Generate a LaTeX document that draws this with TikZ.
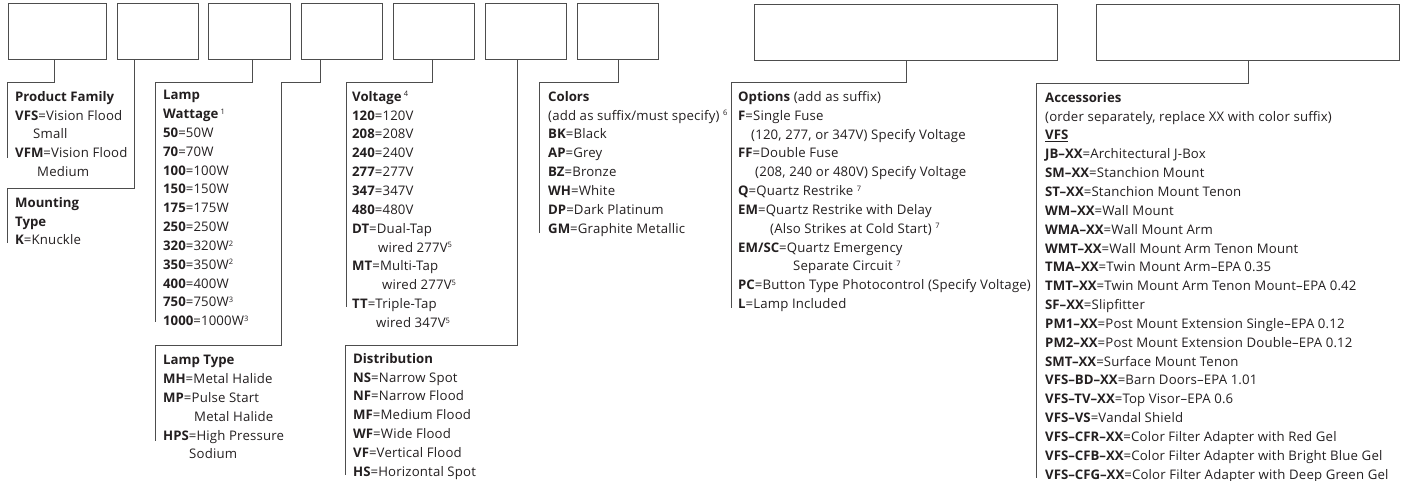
\documentclass[tikz,border=0pt]{standalone}
\usepackage{fontspec}
\setmainfont{Open Sans}[UprightFeatures={LetterSpace=1.3}]
\usetikzlibrary{positioning}
\definecolor{Ink}{HTML}{231F20}
\definecolor{Rule}{HTML}{4D4D4D}
\newcommand{\fn}[1]{\textsuperscript{\fontsize{7.5}{7.5}\selectfont #1}}

\begin{document}
\begin{tikzpicture}[x=1pt,y=-1pt,
    box/.style={draw=Rule,line width=0.9pt,minimum height=56pt,inner sep=0pt,anchor=north west},
    link/.style={draw=Rule,line width=0.9pt},
    sec/.style={anchor=north west,inner sep=0pt,align=left,text=Ink,font=\fontsize{13.2}{18.85}\selectfont}]
  \useasboundingbox (0,0) rectangle (1416,481);
  \node[box,minimum width=98pt] (b1) at (8,3) {};
  \node[box,minimum width=81pt] (b2) at (117,3) {};
  \node[box,minimum width=82pt] (b3) at (208,3) {};
  \node[box,minimum width=81pt] (b4) at (301,3) {};
  \node[box,minimum width=81pt] (b5) at (393,3) {};
  \node[box,minimum width=81pt] (b6) at (485,3) {};
  \node[box,minimum width=81pt] (b7) at (577,3) {};
  \node[box,minimum width=303pt] (b8) at (754,4) {};
  \node[box,minimum width=303pt] (b9) at (1096,4) {};

  \coordinate (pfc) at (7,82);
  \coordinate (mtc) at (7,188);
  \coordinate (lwc) at (155,82);
  \coordinate (k4) at (281,82);
  \coordinate (ltc) at (155,345);
  \coordinate (vc) at (346,82);
  \coordinate (dc) at (345,345);
  \coordinate (cc) at (539,82);
  \coordinate (oc) at (731,82);
  \coordinate (ac) at (1036,83);

  \node[sec,below right=9pt and 8pt of pfc] (pf) {\textbf{Product Family}\\
    \textbf{VFS}=Vision Flood\\ \hspace*{18pt}Small\\
    \textbf{VFM}=Vision Flood\\ \hspace*{22pt}Medium};
  \node[sec,below right=9pt and 8pt of mtc] (mt) {\textbf{Mounting}\\ \textbf{Type}\\ \textbf{K}=Knuckle};
  \node[sec,below right=8pt and 8pt of lwc] (lw) {\textbf{Lamp}\\ \textbf{Wattage}\,\fn{1}\\
    \textbf{50}=50W\\ \textbf{70}=70W\\ \textbf{100}=100W\\ \textbf{150}=150W\\
    \textbf{175}=175W\\ \textbf{250}=250W\\ \textbf{320}=320W\fn{2}\\ \textbf{350}=350W\fn{2}\\
    \textbf{400}=400W\\ \textbf{750}=750W\fn{3}\\ \textbf{1000}=1000W\fn{3}};
  \node[sec,below right=10pt and 8pt of ltc] (lt) {\textbf{Lamp Type}\\
    \textbf{MH}=Metal Halide\\ \textbf{MP}=Pulse Start\\ \hspace*{31pt}Metal Halide\\
    \textbf{HPS}=High Pressure\\ \hspace*{26pt}Sodium};
  \node[sec,below right=9pt and 6pt of vc] (vt) {\textbf{Voltage}\,\fn{4}\\
    \textbf{120}=120V\\ \textbf{208}=208V\\ \textbf{240}=240V\\ \textbf{277}=277V\\
    \textbf{347}=347V\\ \textbf{480}=480V\\
    \textbf{DT}=Dual-Tap\\ \hspace*{26pt}wired 277V\fn{5}\\
    \textbf{MT}=Multi-Tap\\ \hspace*{30pt}wired 277V\fn{5}\\
    \textbf{TT}=Triple-Tap\\ \hspace*{24pt}wired 347V\fn{5}};
  \node[sec,below right=8pt and 8pt of dc] (ds) {\textbf{Distribution}\\
    \textbf{NS}=Narrow Spot\\ \textbf{NF}=Narrow Flood\\ \textbf{MF}=Medium Flood\\
    \textbf{WF}=Wide Flood\\ \textbf{VF}=Vertical Flood\\ \textbf{HS}=Horizontal Spot};
  \node[sec,below right=9pt and 9pt of cc] (co) {\textbf{Colors}\\
    (add as suffix/must specify)\ \fn{6}\\ \textbf{BK}=Black\\ \textbf{AP}=Grey\\
    \textbf{BZ}=Bronze\\ \textbf{WH}=White\\ \textbf{DP}=Dark Platinum\\ \textbf{GM}=Graphite Metallic};
  \node[sec,below right=9pt and 7pt of oc] (op) {\textbf{Options} (add as suffix)\\
    \textbf{F}=Single Fuse\\ \hspace*{13pt}(120, 277, or 347V) Specify Voltage\\
    \textbf{FF}=Double Fuse\\ \hspace*{17pt}(208, 240 or 480V) Specify Voltage\\
    \textbf{Q}=Quartz Restrike\ \fn{7}\\ \textbf{EM}=Quartz Restrike with Delay\\
    \hspace*{32pt}(Also Strikes at Cold Start)\ \fn{7}\\
    \textbf{EM/SC}=Quartz Emergency\\ \hspace*{55pt}Separate Circuit\ \fn{7}\\
    \textbf{PC}=Button Type Photocontrol (Specify Voltage)\\ \textbf{L}=Lamp Included};
  \node[sec,below right=9pt and 9pt of ac] (ax) {\textbf{Accessories}\\
    (order separately, replace XX with color suffix)\\ \underline{\textbf{VFS}}\\
    \textbf{JB--XX}=Architectural J-Box\\ \textbf{SM--XX}=Stanchion Mount\\
    \textbf{ST--XX}=Stanchion Mount Tenon\\ \textbf{WM--XX}=Wall Mount\\
    \textbf{WMA--XX}=Wall Mount Arm\\ \textbf{WMT--XX}=Wall Mount Arm Tenon Mount\\
    \textbf{TMA--XX}=Twin Mount Arm--EPA 0.35\\ \textbf{TMT--XX}=Twin Mount Arm Tenon Mount--EPA 0.42\\
    \textbf{SF--XX}=Slipfitter\\ \textbf{PM1--XX}=Post Mount Extension Single--EPA 0.12\\
    \textbf{PM2--XX}=Post Mount Extension Double--EPA 0.12\\ \textbf{SMT--XX}=Surface Mount Tenon\\
    \textbf{VFS--BD--XX}=Barn Doors--EPA 1.01\\ \textbf{VFS--TV--XX}=Top Visor--EPA 0.6\\
    \textbf{VFS--VS}=Vandal Shield\\ \textbf{VFS--CFR--XX}=Color Filter Adapter with Red Gel\\
    \textbf{VFS--CFB--XX}=Color Filter Adapter with Bright Blue Gel\\
    \textbf{VFS--CFG--XX}=Color Filter Adapter with Deep Green Gel};

  \draw[link] ([xshift=-3pt]b1.south) |- (pfc) -- ++(0,76);
  \draw[link] ([xshift=-23.5pt]b2.south) |- (mtc) -- ++(0,55);
  \draw[link] ([xshift=3pt]b3.south) |- (lwc) -- ++(0,240);
  \draw[link] ([xshift=-22pt]b4.south) |- (k4) |- (ltc) -- ++(0,96);
  \draw[link] ([xshift=-1.5pt]b5.south) |- (vc) -- ++(0,225);
  \draw[link] ([xshift=-8.5pt]b6.south) |- (dc) -- ++(0,130);
  \draw[link] (b7.south) |- (cc) -- ++(0,151);
  \draw[link] (b8.south) |- (oc) -- ++(0,226);
  \draw[link] (b9.south) |- (ac) -- ++(0,395);
\end{tikzpicture}
\end{document}
